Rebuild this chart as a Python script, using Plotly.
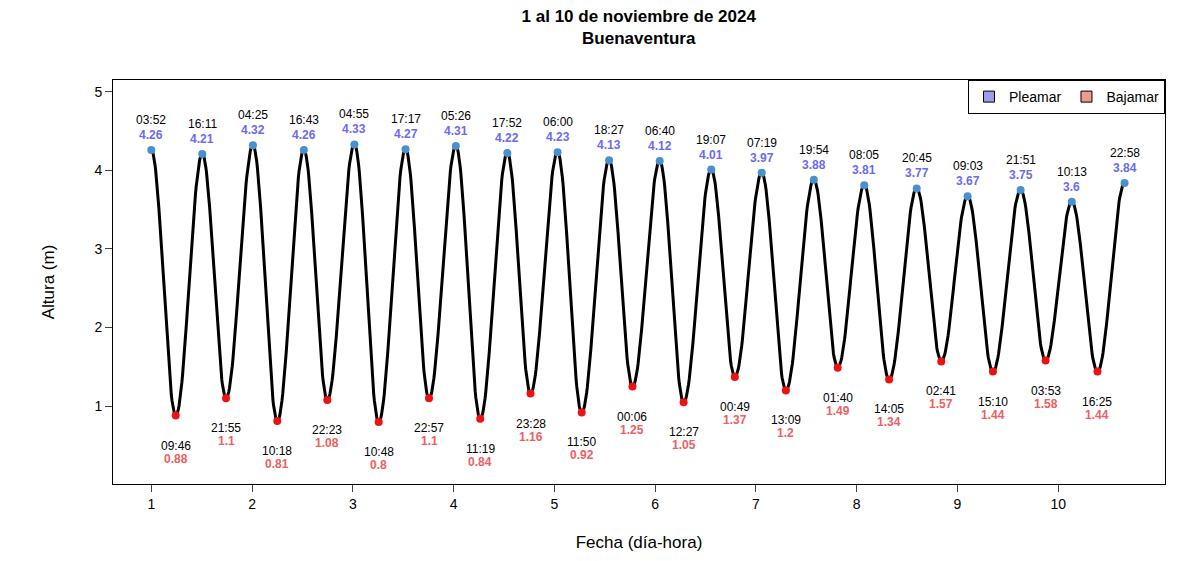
import numpy as np
import plotly.graph_objects as go

days = [1,1,1,1, 2,2,2,2, 3,3,3,3, 4,4,4,4, 5,5,5, 6,6,6,6, 7,7,7,7, 8,8,8,8, 9,9,9,9, 10,10,10,10]
times = ["03:52","09:46","16:11","21:55","04:25","10:18","16:43","22:23","04:55","10:48","17:17","22:57",
         "05:26","11:19","17:52","23:28","06:00","11:50","18:27","00:06","06:40","12:27","19:07",
         "00:49","07:19","13:09","19:54","01:40","08:05","14:05","20:45","02:41","09:03","15:10","21:51",
         "03:53","10:13","16:25","22:58"]
heights = [4.26,0.88,4.21,1.1,4.32,0.81,4.26,1.08,4.33,0.8,4.27,1.1,4.31,0.84,4.22,1.16,4.23,0.92,4.13,
           1.25,4.12,1.05,4.01,1.37,3.97,1.2,3.88,1.49,3.81,1.34,3.77,1.57,3.67,1.44,3.75,1.58,3.6,1.44,3.84]
kinds = ["P" if i % 2 == 0 else "B" for i in range(len(heights))]

hrs = np.array([(d-1)*24 + int(t[:2]) + int(t[3:])/60 for d, t in zip(days, times)])
x = 1 + (hrs - hrs[0]) / 24.34
h = np.array(heights)

# smooth curve between extremes (cosine shape)
cx, cy = [], []
for i in range(len(x)-1):
    s = np.linspace(0, 1, 40)
    cx += list(x[i] + (x[i+1]-x[i])*s)
    cy += list(h[i] + (h[i+1]-h[i])*(1-np.cos(np.pi*s))/2)

fig = go.Figure()
fig.add_trace(go.Scatter(x=cx, y=cy, mode="lines", line=dict(color="black", width=3), showlegend=False, hoverinfo="skip"))
ip = [i for i, k in enumerate(kinds) if k == "P"]
ib = [i for i, k in enumerate(kinds) if k == "B"]
fig.add_trace(go.Scatter(x=x[ip], y=h[ip], mode="markers", marker=dict(color="#4a8fd0", size=8), showlegend=False))
fig.add_trace(go.Scatter(x=x[ib], y=h[ib], mode="markers", marker=dict(color="#ee1111", size=8), showlegend=False))
fig.add_trace(go.Scatter(x=[None], y=[None], mode="markers", name="Pleamar",
                         marker=dict(symbol="square", color="#9a9cf0", size=11, line=dict(color="black", width=1))))
fig.add_trace(go.Scatter(x=[None], y=[None], mode="markers", name="Bajamar",
                         marker=dict(symbol="square", color="#ee9a90", size=11, line=dict(color="black", width=1))))

for i in range(len(x)):
    if kinds[i] == "P":
        fig.add_annotation(x=x[i], y=h[i], text=times[i], showarrow=False, yshift=30, font=dict(size=12, color="black"))
        fig.add_annotation(x=x[i], y=h[i], text="<b>%g</b>" % h[i], showarrow=False, yshift=15, font=dict(size=12, color="#6b6bf0"))
    else:
        fig.add_annotation(x=x[i], y=h[i], text=times[i], showarrow=False, yshift=-30, font=dict(size=12, color="black"))
        fig.add_annotation(x=x[i], y=h[i], text="<b>%g</b>" % h[i], showarrow=False, yshift=-43, font=dict(size=12, color="#ee6060"))

fig.update_layout(
    width=1179, height=553, plot_bgcolor="white", paper_bgcolor="white",
    font=dict(family="Liberation Sans, Arial", size=14, color="black"),
    margin=dict(l=105, r=22, t=72, b=68),
    title=dict(text="<b>1 al 10 de noviembre de 2024<br>Buenaventura</b>", x=0.535, xanchor="center", y=0.975, font=dict(size=17)),
    xaxis=dict(range=[0.62, 11.06], tickvals=list(range(1, 11)), ticks="outside", ticklen=7, showgrid=False,
               zeroline=False, showline=True, mirror=True, linecolor="black", title=dict(text="Fecha (día-hora)", standoff=25)),
    yaxis=dict(range=[0.01, 5.15], tickvals=[1, 2, 3, 4, 5], ticks="outside", ticklen=7, showgrid=False,
               zeroline=False, showline=True, mirror=True, linecolor="black", title=dict(text="Altura (m)", standoff=35)),
    legend=dict(orientation="h", x=1, xanchor="right", y=1, yanchor="top", bordercolor="black", borderwidth=1,
                bgcolor="white", font=dict(size=14)),
)
fig.write_html("out.html")
